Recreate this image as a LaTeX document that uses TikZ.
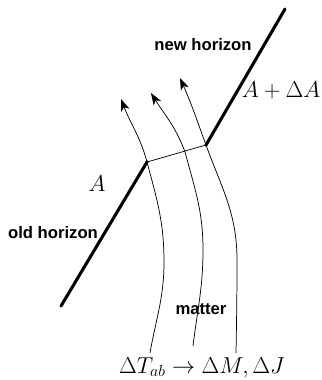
\documentclass[tikz,border=0pt]{standalone}
\usepackage{fontspec}
\newfontfamily\labfont{Liberation Sans}
\usetikzlibrary{arrows.meta}
\begin{document}
\begin{tikzpicture}[x=0.75pt,y=0.75pt,
  horizon/.style={line width=2.3pt,line cap=round},
  flow/.style={line width=0.55pt,-{Stealth[length=9pt,width=6.5pt,inset=2.5pt]}},
  link/.style={line width=0.55pt},
  lab/.style={font=\labfont\bfseries\fontsize{12.5}{14}\selectfont,anchor=base,inner sep=0pt},
  mlab/.style={font=\fontsize{17}{20}\selectfont,anchor=base,inner sep=0pt},
  dot/.style={circle,fill=black,inner sep=0pt,minimum size=2.6pt}]
\useasboundingbox (0,0) rectangle (322,380);
% horizon points
\coordinate (o1) at (61,74);
\coordinate (d1) at (147,218);
\coordinate (d3) at (206,235);
\coordinate (n2) at (285,371);
% thick horizons
\draw[horizon] (o1) -- (d1);
\draw[horizon] (d3) -- (n2);
\draw[link] (d1) -- (d3);
\node[dot] at (d1) {};
\node[dot] at (d3) {};
% curves
\coordinate (b1) at (150,27);
\coordinate (m1) at (164,118);
\coordinate (t1) at (121,281);
\coordinate (b2) at (193,34);
\coordinate (m2) at (203,130);
\coordinate (x2) at (185,228);
\coordinate (t2) at (151,287);
\coordinate (b3) at (236,27);
\coordinate (m3) at (237,120);
\coordinate (t3) at (180,302);
\draw[flow] (b1) to[out=80,in=-90] (m1) to[out=90,in=-75] (d1) to[out=105,in=-69] (t1);
\draw[flow] (b2) to[out=83,in=-90] (m2) to[out=90,in=-75] (x2) to[out=110,in=-58] (t2);
\draw[flow] (b3) to[out=89,in=-90] (m3) to[out=90,in=-70] (d3) to[out=110,in=-66] (t3);
% labels
\node[lab] (nh) at (203,330) {new horizon};
\node[lab] (oh) at (53,142) {old horizon};
\node[lab] (mt) at (201,65) {matter};
\node[mlab,font=\fontsize{16}{19}\selectfont,anchor=base east] (ada) at (320.5,283) {$A+\Delta A$};
\node[mlab] (a) at (97,189) {$A$};
\node[mlab] (eq) at (202,7) {$\Delta T_{ab}\rightarrow \Delta M,\Delta J$};
\end{tikzpicture}
\end{document}
